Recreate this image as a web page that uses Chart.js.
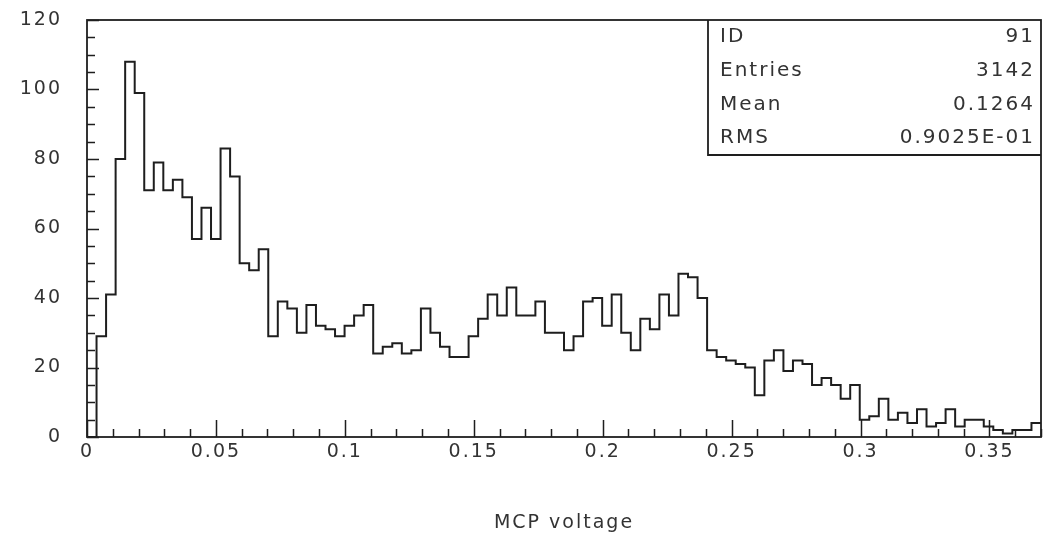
<!DOCTYPE html>
<html>
<head>
<meta charset="utf-8">
<title>MCP voltage</title>
<script src="https://cdn.jsdelivr.net/npm/chart.js@4.4.1/dist/chart.umd.min.js"></script>
<style>
  html, body { margin: 0; padding: 0; background: #fff; }
  #wrap { width: 1051px; height: 534px; }
</style>
</head>
<body>
<div id="wrap"><canvas id="histo"></canvas></div>
<script>
// histogram 91 : MCP voltage, 100 bins between 0 and 0.37
const xMin = 0;
const xMax = 0.37;
const nBins = 100;

const counts = [
   0, 29, 41, 80, 108, 99, 71, 79, 71, 74,
  69, 57, 66, 57, 83, 75, 50, 48, 54, 29,
  39, 37, 30, 38, 32, 31, 29, 32, 35, 38,
  24, 26, 27, 24, 25, 37, 30, 26, 23, 23,
  29, 34, 41, 35, 43, 35, 35, 39, 30, 30,
  25, 29, 39, 40, 32, 41, 30, 25, 34, 31,
  41, 35, 47, 46, 40, 25, 23, 22, 21, 20,
  12, 22, 25, 19, 22, 21, 15, 17, 15, 11,
  15,  5,  6, 11,  5,  7,  4,  8,  3,  4,
   8,  3,  5,  5,  3,  2,  1,  2,  2,  4
];

const xMajor = 0.05, xMinor = 0.01;
const yMax = 120, yMajor = 20, yMinor = 5;

const statNames = ['ID', 'Entries', 'Mean', 'RMS'];
const statValues = ['91', '3142', '0.1264', '0.9025E-01'];

const ink = '#1e1e1e';
const textCol = '#333';
const labelFont = { family: 'DejaVu Sans', size: 19 };

// bin low edges + closing point at the upper edge, drawn as steps
const binWidth = (xMax - xMin) / nBins;
const points = counts.map((c, i) => ({ x: xMin + i * binWidth, y: c }));
points.push({ x: xMax, y: counts[counts.length - 1] });

// frame, inward ticks and the stats box
const hbookFrame = {
  id: 'hbookFrame',
  beforeDraw(chart) {
    chart.ctx.letterSpacing = '2px';
  },
  afterDraw(chart) {
    const ctx = chart.ctx;
    const a = chart.chartArea;
    const xs = chart.scales.x, ys = chart.scales.y;
    ctx.save();
    ctx.strokeStyle = ink;
    ctx.lineWidth = 1.8;
    ctx.strokeRect(a.left, a.top, a.right - a.left, a.bottom - a.top);

    ctx.beginPath();
    for (let v = xMin; v <= xMax + 1e-9; v += xMinor) {
      const px = Math.round(xs.getPixelForValue(v)) + 0.5;
      const major = Math.abs(v / xMajor - Math.round(v / xMajor)) < 1e-6;
      ctx.moveTo(px, a.bottom);
      ctx.lineTo(px, a.bottom - (major ? 17 : 8));
    }
    for (let v = 0; v <= yMax; v += yMinor) {
      const py = Math.round(ys.getPixelForValue(v)) + 0.5;
      ctx.moveTo(a.left, py);
      ctx.lineTo(a.left + (v % yMajor === 0 ? 12 : 8), py);
    }
    ctx.lineWidth = 1.5;
    ctx.stroke();

    // statistics box in the top right corner
    const bx = a.right - 333, by = a.top, bh = 135;
    ctx.lineWidth = 1.8;
    ctx.beginPath();
    ctx.moveTo(bx, by);
    ctx.lineTo(bx, by + bh);
    ctx.lineTo(a.right, by + bh);
    ctx.stroke();

    ctx.fillStyle = textCol;
    ctx.font = '20px "DejaVu Sans"';
    ctx.letterSpacing = '2px';
    ctx.textBaseline = 'middle';
    const rowH = bh / statNames.length;
    statNames.forEach((name, i) => {
      const y = by + rowH * (i + 0.5);
      ctx.textAlign = 'left';
      ctx.fillText(name, bx + 12, y);
      ctx.textAlign = 'right';
      ctx.fillText(statValues[i], a.right - 6, y);
    });
    ctx.restore();
  }
};

const ctx = document.getElementById('histo').getContext('2d');
const chart = new Chart(ctx, {
  type: 'line',
  data: {
    datasets: [{
      label: 'MCP voltage',
      data: points,
      stepped: true,
      borderColor: ink,
      borderWidth: 2,
      pointRadius: 0,
      fill: false
    }]
  },
  options: {
    responsive: true,
    maintainAspectRatio: false,
    animation: false,
    layout: { padding: { top: 20, right: 10, left: 0, bottom: 0 } },
    plugins: {
      legend: { display: false },
      tooltip: { enabled: false }
    },
    scales: {
      x: {
        type: 'linear',
        min: xMin,
        max: xMax,
        grid: { display: false, drawTicks: false },
        border: { display: false },
        ticks: {
          stepSize: xMajor,
          includeBounds: false,
          maxRotation: 0,
          autoSkip: false,
          padding: 4,
          color: textCol,
          font: labelFont,
          callback: v => String(Math.round(v * 100) / 100)
        },
        title: {
          display: true,
          text: 'MCP voltage',
          color: textCol,
          font: labelFont,
          padding: { top: 0, bottom: 0 }
        },
        afterFit: s => { s.height = 97; s.paddingLeft = 0; s.paddingRight = 0; }
      },
      y: {
        min: 0,
        max: yMax,
        grid: { display: false, drawTicks: false },
        border: { display: false },
        ticks: {
          stepSize: yMajor,
          padding: 25,
          color: textCol,
          font: labelFont
        },
        afterFit: s => { s.width = 87; s.paddingTop = 0; s.paddingBottom = 0; }
      }
    }
  },
  plugins: [hbookFrame]
});
</script>
</body>
</html>
